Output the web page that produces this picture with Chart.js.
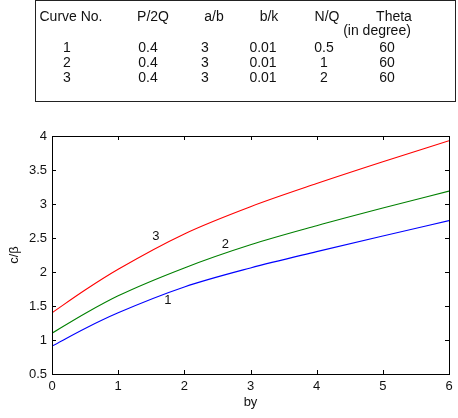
<!DOCTYPE html>
<html>
<head>
<meta charset="utf-8">
<script src="https://cdn.jsdelivr.net/npm/chart.js@4.4.3/dist/chart.umd.min.js"></script>
<style>
  body { margin: 0; background: #fff; }
  #wrap { position: relative; width: 458px; height: 418px; font-family: "Liberation Sans", Arial, sans-serif; }
  #plot { position: absolute; left: 0; top: 0; }
  #tbl { position: absolute; left: 35px; top: 0px; width: 421px; height: 102px; border: 1px solid #222; box-sizing: border-box; }
  .cell { position: absolute; font-size: 14px; color: #111; transform: translate(-50%, -50%); white-space: nowrap; }
</style>
</head>
<body>
<div id="wrap">
  <canvas id="plot" width="458" height="418"></canvas>
  <div id="tbl"></div>
</div>
<script>
// parameter table shown above the plot
const headers = ["Curve No.", "P/2Q", "a/b", "b/k", "N/Q", "Theta"];
const curveNo = ["1", "2", "3"];
const p2q = ["0.4", "0.4", "0.4"];
const ab = ["3", "3", "3"];
const bk = ["0.01", "0.01", "0.01"];
const nq = ["0.5", "1", "2"];
const theta = ["60", "60", "60"];

// curve data (by vs c/beta)
const byVals = [0, 0.5, 1, 2, 3, 4, 5, 6];
const curve1 = [0.91, 1.17, 1.40, 1.78, 2.06, 2.30, 2.53, 2.755];
const curve2 = [1.10, 1.39, 1.65, 2.06, 2.40, 2.68, 2.94, 3.19];
const curve3 = [1.40, 1.735, 2.04, 2.56, 2.96, 3.30, 3.62, 3.93];

// curve labels placed in data coordinates
const labelText = ["1", "2", "3"];
const labelX = [1.75, 2.62, 1.57];
const labelY = [1.58, 2.41, 2.52];

// build table text (centres in px, relative to page)
const tbl = document.getElementById("tbl");
const colX = [71, 153, 214, 269, 327, 394];
const rowColX = [67, 148, 205, 263, 324, 387];
const rowY = [47, 62, 77];
function addCell(txt, x, y) {
  const d = document.createElement("div");
  d.className = "cell";
  d.textContent = txt;
  d.style.left = (x - 36) + "px";
  d.style.top = (y - 1) + "px";
  tbl.appendChild(d);
}
headers.forEach((h, i) => addCell(h, colX[i], 16));
addCell("(in degree)", 377, 30);
const cols = [curveNo, p2q, ab, bk, nq, theta];
for (let r = 0; r < 3; r++) {
  cols.forEach((c, i) => addCell(c[r], rowColX[i], rowY[r]));
}

function toPts(ys) {
  return byVals.map((x, i) => ({ x: x, y: ys[i] }));
}

// box around the axes + inward ticks + curve labels
const boxPlugin = {
  id: "box",
  afterDraw(chart) {
    const ctx = chart.ctx;
    const a = chart.chartArea;
    const xs = chart.scales.x, ys = chart.scales.y;
    ctx.save();
    ctx.strokeStyle = "#000";
    ctx.lineWidth = 1;
    ctx.strokeRect(a.left + 0.5, a.top + 0.5, a.right - a.left, a.bottom - a.top);
    const tl = 4;
    ctx.beginPath();
    xs.ticks.forEach(t => {
      const px = Math.round(xs.getPixelForValue(t.value)) + 0.5;
      ctx.moveTo(px, a.bottom); ctx.lineTo(px, a.bottom - tl);
      ctx.moveTo(px, a.top); ctx.lineTo(px, a.top + tl);
    });
    ys.ticks.forEach(t => {
      const py = Math.round(ys.getPixelForValue(t.value)) + 0.5;
      ctx.moveTo(a.left, py); ctx.lineTo(a.left + tl, py);
      ctx.moveTo(a.right, py); ctx.lineTo(a.right - tl, py);
    });
    ctx.stroke();
    ctx.fillStyle = "#111";
    ctx.font = '13px "Liberation Sans", Arial, sans-serif';
    ctx.textAlign = "center";
    ctx.textBaseline = "middle";
    labelText.forEach((s, i) => {
      ctx.fillText(s, xs.getPixelForValue(labelX[i]), ys.getPixelForValue(labelY[i]));
    });
    ctx.restore();
  }
};

const tickFont = { family: '"Liberation Sans", Arial, sans-serif', size: 13 };

new Chart(document.getElementById("plot"), {
  type: "line",
  data: {
    datasets: [
      { label: "1", data: toPts(curve1), borderColor: "#0000ff" },
      { label: "2", data: toPts(curve2), borderColor: "#008000" },
      { label: "3", data: toPts(curve3), borderColor: "#ff0000" }
    ]
  },
  options: {
    responsive: false,
    animation: false,
    layout: { padding: { left: 0, right: 9, top: 136, bottom: 0 } },
    elements: {
      line: { borderWidth: 1.1, cubicInterpolationMode: "monotone", fill: false },
      point: { radius: 0 }
    },
    plugins: { legend: { display: false }, tooltip: { enabled: false } },
    scales: {
      x: {
        type: "linear", min: 0, max: 6,
        grid: { display: false, drawTicks: false }, border: { display: false },
        ticks: { stepSize: 1, color: "#111", font: tickFont, padding: 5, callback: v => String(v) },
        title: { display: true, text: "by", color: "#111", font: tickFont, padding: { top: 0, bottom: 8 } },
        afterFit(s) { s.height = 44; }
      },
      y: {
        type: "linear", min: 0.5, max: 4,
        grid: { display: false, drawTicks: false }, border: { display: false },
        ticks: { stepSize: 0.5, color: "#111", font: tickFont, padding: 5, callback: v => String(v) },
        title: { display: true, text: "c/β", color: "#111", font: tickFont, padding: { top: 7, bottom: 0 } },
        afterFit(s) { s.width = 52; }
      }
    }
  },
  plugins: [boxPlugin]
});
</script>
</body>
</html>
